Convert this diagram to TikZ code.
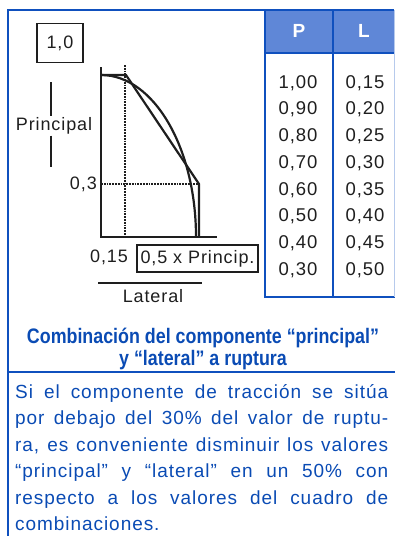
\documentclass[tikz,border=0pt]{standalone}
\usepackage{fontspec}
\setmainfont{Liberation Sans}
\newfontfamily\titlefont[FakeStretch=0.85]{Liberation Sans Bold}
\newfontfamily\spacedfont[LetterSpace=5]{Liberation Sans}
\usetikzlibrary{positioning}
\definecolor{frameblue}{RGB}{15,80,190}
\definecolor{headblue}{RGB}{95,135,215}
\definecolor{textblue}{RGB}{10,75,180}
\definecolor{ink}{RGB}{30,30,30}
\tikzstyle{frame} = [draw=frameblue, line width=2.4pt]
\tikzstyle{labelbox} = [rectangle, draw=ink, line width=1.6pt, inner sep=2pt, text=ink, font=\fontsize{18}{20}\spacedfont]
\tikzstyle{lbl} = [text=ink, inner sep=1pt, font=\fontsize{18}{20}\spacedfont]
\tikzstyle{head} = [text=white, font=\fontsize{19}{20}\selectfont\bfseries]
\tikzstyle{val} = [text=ink, font=\fontsize{18.5}{20}\spacedfont]
\tikzstyle{axis} = [draw=ink, line width=2.2pt]

\begin{document}
\begin{tikzpicture}[x=1pt, y=-1pt]
        \useasboundingbox (0,0) rectangle (395,536);
        % table
        \fill[headblue] (265,10) rectangle (394,53);
        \draw[frame] (8,536) -- (8,10) -- (394,10);
        \draw[frame] (265,10) -- (265,297) -- (395,297);
        \draw[frame, line width=1.6pt] (265,53) -- (395,53);
        \draw[frame] (333,10) -- (333,297);
        \draw[frameblue!30, line width=0.8pt] (394,10) -- (394,297);
        \node[head] (hp) at (299,31) {P};
        \node[head] (hl) at (364,31) {L};
        \foreach \p/\l [count=\i] in {{1,00}/{0,15},{0,90}/{0,20},{0,80}/{0,25},{0,70}/{0,30},{0,60}/{0,35},{0,50}/{0,40},{0,40}/{0,45},{0,30}/{0,50}} {
            \node[val] (p\i) at (298,{83+(\i-1)*26.7}) {\p};
            \node[val] (l\i) at (365,{83+(\i-1)*26.7}) {\l};
        }

        % chart
        \coordinate (O) at (101,237);
        \coordinate (top) at (101,67);
        \coordinate (xend) at (217,237);
        \coordinate (k1) at (126,75);
        \coordinate (k2) at (199,184);
        \draw[axis] (top) -- (O) -- (xend);
        \draw[ink, line width=1.8pt, densely dotted] (125,65) -- (125,237);
        \draw[ink, line width=1.8pt, densely dotted] (101,184) -- (k2);
        \draw[ink, line width=2.2pt] (101,75) -- (k1) -- (k2) -- (199,237);
        \draw[ink, line width=2.2pt] (101,75) arc[start angle=-90, end angle=0, x radius=95, y radius=162];

        \node[labelbox, minimum width=46pt, minimum height=39pt] (one) at (60,43) {1,0};
        \node[lbl] (princ) at (54,126) {Principal};
        \draw[axis] (51,82) -- (princ.north -| 51,0);
        \draw[axis] (princ.south -| 51,0) -- (51,167);
        \node[lbl, anchor=east] (p03) at (98,184) {0,3};
        \node[lbl] (l015) at (109,257) {0,15};
        \node[labelbox, minimum width=121pt, minimum height=27pt] (half) at (197.5,258.5) {0,5 x Princip.};
        \node[lbl] (lat) at (153,296) {Lateral};
        \draw[axis] (98,283) -- (202,283);

        % caption and note
        \node[text=textblue, align=center, font=\fontsize{21}{22.5}\titlefont] (title) at (203,349) {Combinación del componente “principal”\\y “lateral” a ruptura};
        \draw[frame] (8,372) -- (395,372);
        \node[text=textblue, anchor=north west, inner sep=0pt, text width=373pt, align=justify,
              font=\fontsize{19}{26.5}\spacedfont] (note) at (15,384)
              {Si el componente de tracción se sitúa\linebreak por debajo del 30\% del valor de ruptu-\linebreak ra, es conveniente disminuir los valores\linebreak “principal” y “lateral” en un 50\% con\linebreak respecto a los valores del cuadro de\linebreak combinaciones.};
\end{tikzpicture}
\end{document}
